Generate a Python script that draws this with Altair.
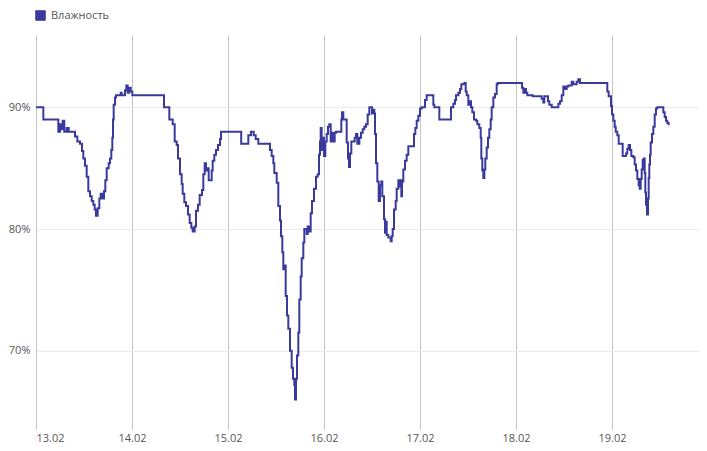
import altair as alt
import pandas as pd

# hours since 13.02 00:00 (change points of a step series)
hours = [
    0, 1.83, 5.58, 6.0, 6.42, 6.67, 7.08, 7.67, 8.17, 9.75, 10.33, 11.0, 11.5, 11.83,
    12.25, 12.67, 13.08, 13.5, 13.92, 14.33, 14.67, 15.0, 15.42, 15.83, 16.17, 16.67,
    17.0, 17.33, 17.67, 18.17, 18.5, 18.83, 19.08, 19.25, 19.42, 19.75, 20.0, 21.17,
    21.42, 22.25, 22.58, 22.92, 23.25, 23.67, 24.08, 32.0, 33.33, 34.17, 34.67, 35.17,
    35.5, 36.0, 36.42, 36.67, 37.08, 37.5, 38.0, 38.42, 38.83, 39.17, 39.67, 40.0,
    40.5, 40.92, 41.5, 41.83, 42.17, 42.5, 42.83, 43.17, 43.92, 44.17, 44.58, 45.0,
    45.5, 46.0, 46.25, 51.3, 53.08, 53.75, 54.42, 54.92, 55.58, 58.5, 58.92, 59.33,
    59.58, 60.17, 60.58, 61.0, 61.25, 61.58, 61.83, 62.25, 62.42, 62.75, 63.08, 63.5,
    63.92, 64.25, 64.58, 64.75, 65.0, 65.25, 65.58, 65.83, 66.17, 66.42, 66.83, 67.08,
    67.67, 67.92, 68.33, 68.67, 69.0, 69.5, 70.0, 70.42, 70.75, 71.0, 71.17, 71.42,
    71.67, 72.0, 72.33, 72.67, 73.0, 73.33, 73.67, 74.0, 74.33, 74.67, 75.0, 76.33,
    76.5, 76.83, 77.67, 78.0, 78.25, 78.5, 78.83, 79.67, 80.0, 80.33, 80.83, 81.25,
    81.67, 82.08, 82.5, 82.92, 83.33, 84.0, 84.33, 84.58, 84.75, 85.0, 85.33, 85.67,
    86.0, 86.33, 86.58, 87.0, 87.25, 87.5, 87.67, 88.08, 88.67, 88.92, 89.17, 89.5,
    89.92, 90.17, 90.58, 90.83, 91.08, 91.33, 91.5, 91.83, 92.25, 92.67, 93.08, 94.5,
    94.83, 95.17, 95.58, 96.0, 96.42, 97.25, 97.67, 99.33, 99.58, 100.83, 103.75,
    104.33, 104.75, 105.0, 105.58, 106.0, 106.33, 107.08, 107.42, 107.67, 108.08,
    108.5, 108.75, 109.08, 109.5, 110.0, 110.33, 110.83, 111.17, 111.33, 111.58,
    111.83, 112.08, 112.33, 112.67, 113.0, 113.33, 113.67, 113.92, 114.33, 114.75,
    115.17, 115.42, 121.5, 121.83, 122.17, 122.5, 122.83, 124.17, 126.42, 126.83,
    127.08, 128.0, 128.33, 128.92, 130.58, 131.0, 131.42, 131.83, 132.25, 132.67,
    133.08, 133.92, 134.33, 135.17, 135.58, 136.0, 142.83, 143.17, 143.75, 144.0,
    144.33, 144.67, 144.92, 145.33, 145.67, 146.67, 147.5, 147.83, 148.17, 148.5,
    148.83, 149.33, 149.67, 150.0, 150.33, 150.67, 150.92, 151.17, 151.42, 151.67,
    152.0, 152.17, 152.33, 152.5, 152.75, 153.0, 153.17, 153.33, 153.5, 153.67, 154.0,
    154.33, 154.67, 155.0, 155.33, 156.83, 157.17, 157.5, 157.83, 158.17, 158.4,
]

humidity = [
    90, 89, 88, 88.6, 88.2, 88.9, 88, 88.3, 88, 87.6, 87.2, 87, 86.4, 85.8,
    85.2, 84.3, 83.1, 82.7, 82.3, 82, 81.6, 81.1, 81.7, 82.5, 82.9, 82.5,
    83.1, 84, 85, 85.4, 85.8, 86.5, 87.5, 89, 90.2, 90.8, 91, 91.2,
    91, 91.4, 91.8, 91.2, 91.6, 91.3, 91, 90, 89, 88.6, 87.2, 86.9,
    85.8, 84.5, 83.7, 82.9, 82.2, 81.9, 81.2, 80.5, 80.1, 79.8, 80.2, 81.5,
    82, 82.8, 83.2, 84.5, 85.4, 84.8, 85, 84, 84.8, 85.6, 86.1, 86.5,
    86.9, 87.4, 88, 87, 87.7, 88, 87.7, 87.4, 87, 86.5, 86, 85.4,
    84.6, 83.8, 81.9, 80.7, 79.4, 78.1, 76.7, 77, 74.5, 72.9, 71.8, 70,
    68.6, 67.7, 67.2, 66, 67.7, 69.6, 71.5, 74.2, 76.1, 77.6, 78.9, 80,
    79.6, 80.2, 79.8, 81.3, 82.3, 83.3, 84.3, 84.5, 86.1, 87.2, 88.3, 86.5,
    87.5, 86, 87.2, 87.8, 88.4, 88.6, 87.2, 87.9, 87.2, 87.9, 88, 89,
    89.6, 89, 87.1, 85.8, 85.1, 86.2, 87.2, 87.5, 87.8, 87, 87.5, 87.9,
    88.2, 88.4, 88.6, 89.4, 90, 89.5, 89.8, 89.5, 87.8, 85.4, 83.9, 82.3,
    83.6, 83.9, 82.7, 80.8, 79.7, 80.6, 79.5, 79.3, 79, 79.4, 80, 81.6,
    82.3, 83.3, 84, 83.5, 84, 82.7, 83.9, 84.9, 85.6, 86.1, 86.8, 87.8,
    88.3, 88.9, 89.3, 89.9, 90, 90.6, 91, 90.2, 90, 89, 90,
    90.3, 90.6, 91, 91.2, 91.5, 91.9, 92, 91.3, 91, 90.2,
    90.5, 90, 89.6, 89, 88.9, 88.6, 88.3, 87.5, 85.8, 84.8,
    84.2, 84.9, 85.8, 86.7, 87.5, 88.2, 89, 90, 90.8, 91.1,
    91.9, 92, 91.6, 91.2, 91.5, 91.2, 91, 90.9, 90.7, 90.4,
    90.9, 90.5, 90.2, 90, 90.3, 90.5, 91, 91.7, 91.5, 91.7,
    91.8, 92.1, 91.9, 92.1, 92.3, 92, 91.3, 90.9, 90.1, 89.4,
    88.9, 88.4, 88, 87.7, 87, 86, 86.2, 86.6, 86.9, 86.5,
    86, 85.9, 85.3, 84.8, 84.1, 83.6, 83.3, 84.1, 84.9, 85.7,
    85.8, 84.6, 83, 82, 81.2, 82.5, 84.2, 85.3, 86.1, 87.1, 87.8,
    88.4, 89.4, 89.9, 90, 89.6, 89.2, 88.9, 88.7, 88.6, 88.6,
]

day_labels = ["13.02", "14.02", "15.02", "16.02", "17.02", "18.02", "19.02"]
day_ticks = [0, 24, 48, 72, 96, 120, 144]
y_ticks = [70, 80, 90]
series_name = "Влажность"

df = pd.DataFrame({"h": hours, "v": humidity, "s": series_name})

label_js = "[" + ",".join("'" + d + "'" for d in day_labels) + "]"

FONT = "Open Sans"
LINE = "#3a3a9c"

chart = (
    alt.Chart(df)
    .mark_line(interpolate="step-after", strokeWidth=2)
    .encode(
        x=alt.X(
            "h:Q",
            scale=alt.Scale(domain=[0, 165.75], nice=False, zero=False),
            axis=alt.Axis(
                values=day_ticks,
                labelExpr=label_js + "[round(datum.value/24)]",
                title=None,
                grid=True,
                gridColor="#c4c4c4",
                gridWidth=1,
                ticks=False,
                domain=False,
                labelPadding=3,
                labelFont=FONT,
                labelFontSize=11,
                labelColor="#555555",
            ),
        ),
        y=alt.Y(
            "v:Q",
            scale=alt.Scale(domain=[63.57, 95.94], nice=False, zero=False),
            axis=alt.Axis(
                values=y_ticks,
                labelExpr="datum.value + '%'",
                title=None,
                grid=True,
                gridColor="#ebebeb",
                gridWidth=1,
                ticks=False,
                domain=False,
                labelPadding=6,
                labelFont=FONT,
                labelFontSize=11,
                labelColor="#555555",
            ),
        ),
        color=alt.Color(
            "s:N",
            title=None,
            scale=alt.Scale(domain=[series_name], range=[LINE]),
            legend=alt.Legend(
                orient="none",
                legendX=-1,
                legendY=-25,
                symbolType="square",
                symbolSize=90,
                symbolFillColor=LINE,
                symbolStrokeColor="#777777",
                symbolStrokeWidth=1,
                labelFont=FONT,
                labelFontSize=11,
                labelColor="#555555",
                labelOffset=5,
            ),
        ),
    )
    .properties(
        width=663,
        height=394,
        autosize=alt.AutoSizeParams(type="none"),
        padding={"left": 28, "top": 27, "right": 0, "bottom": 14},
    )
    .configure_view(stroke=None)
)

chart.save("out.html", embed_options={"renderer": "svg", "actions": False})
